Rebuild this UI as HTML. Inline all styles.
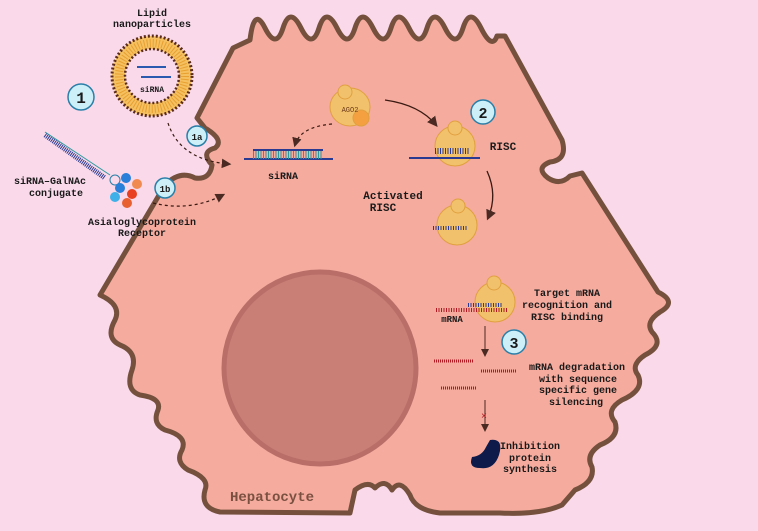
<!DOCTYPE html>
<html><head><meta charset="utf-8"><style>
html,body{margin:0;padding:0;background:#f9d9ea}
svg{display:block}
text{font-family:"Liberation Mono","DejaVu Sans Mono",monospace;font-weight:bold;font-size:10px;fill:#1a1a1a;text-anchor:middle}
</style></head><body>
<svg width="758" height="531" viewBox="0 0 758 531" xmlns="http://www.w3.org/2000/svg">
<defs>
<marker id="ah" markerWidth="8" markerHeight="8" refX="6" refY="4" orient="auto"><path d="M0,0 L8,4 L0,8 Z" fill="#4a2a22"/></marker>
</defs>
<rect width="758" height="531" fill="#f9d9ea"/>
<path d="M233,48 L250,40 Q254,6 265,28 T283,28 T301,28 T319,28 T337,28 T355,28 T373,28 T391,28 T409,28 T427,28 T445,28 T463,28 T481,28 T497,36 L505,36 L562,140 Q568,160 550,162 Q535,168 548,178 Q560,186 570,176 L582,173 L658,292 Q678,302 660,312 Q645,322 652,332 Q665,345 645,355 Q630,365 638,375 Q645,390 622,400 Q605,410 615,422 Q620,437 600,445 Q585,455 592,467 Q595,482 575,490 L562,505 Q540,515 500,513 L440,513 Q415,510 410,495 Q400,478 392,490 Q385,478 375,488 Q368,480 355,490 L350,513 L220,512 Q200,508 205,490 Q210,478 188,470 Q175,462 182,450 Q188,436 165,430 Q152,424 158,410 Q162,398 140,395 Q125,390 132,370 Q138,352 120,345 Q105,338 115,320 Q122,305 100,295 L165,185 Q180,170 195,178 Q210,180 212,165 Q200,152 215,148 Q225,140 205,128 L197,118 Z" fill="#f5ab9e" stroke="#74503d" stroke-width="5" stroke-linejoin="round"/>
<circle cx="320" cy="368" r="96" fill="#c97f76" stroke="#b96e68" stroke-width="5"/>
<text x="272" y="501" style="font-size:14px;fill:#7a5040">Hepatocyte</text>

<circle cx="152" cy="76" r="40" fill="#f5c060" stroke="#5a2a1a" stroke-width="3" stroke-dasharray="2 2"/>
<circle cx="152" cy="76" r="33" fill="none" stroke="#e8a030" stroke-width="8" stroke-dasharray="1 2"/>
<circle cx="152" cy="76" r="27" fill="#f9d9ea" stroke="#5a2a1a" stroke-width="2.5" stroke-dasharray="2 2"/>
<line x1="137" y1="67" x2="166" y2="67" stroke="#2a5ab0" stroke-width="2"/>
<line x1="141" y1="77" x2="171" y2="77" stroke="#2a5ab0" stroke-width="2"/>
<text x="152" y="92" style="font-size:8px">siRNA</text>
<text x="152" y="16">Lipid</text>
<text x="152" y="27">nanoparticles</text>

<g stroke="#2a7fa8" stroke-width="1.5" fill="#cdeff8">
<circle cx="81" cy="97" r="13"/><circle cx="483" cy="112" r="12"/><circle cx="514" cy="342" r="12"/>
<circle cx="197" cy="136" r="10"/><circle cx="165" cy="188" r="10"/>
</g>
<text x="81" y="103" style="font-size:16px">1</text>
<text x="483" y="118" style="font-size:15px">2</text>
<text x="514" y="348" style="font-size:15px">3</text>
<text x="197" y="140" style="font-size:9px">1a</text>
<text x="165" y="192" style="font-size:9px">1b</text>

<line x1="45" y1="135" x2="105" y2="178" stroke="#2a3a90" stroke-width="5" stroke-dasharray="1 1"/>
<line x1="45" y1="132" x2="110" y2="175" stroke="#2a9aa0" stroke-width="1"/>
<circle cx="115" cy="180" r="5" fill="none" stroke="#2a7fa8"/>
<circle cx="126" cy="178" r="5" fill="#2a7fd8"/><circle cx="120" cy="188" r="5" fill="#2a7fd8"/>
<circle cx="137" cy="184" r="5" fill="#f08a50"/><circle cx="132" cy="194" r="5" fill="#e84020"/>
<circle cx="115" cy="197" r="5" fill="#40b0e8"/><circle cx="127" cy="203" r="5" fill="#e86030"/>
<text x="50" y="184">siRNA–GalNAc</text>
<text x="56" y="196">conjugate</text>
<text x="142" y="225">Asialoglycoprotein</text>
<text x="142" y="236">Receptor</text>

<path d="M168,123 Q180,160 229,164" fill="none" stroke="#3a1a12" stroke-width="1.2" stroke-dasharray="3 3" marker-end="url(#ah)"/>
<path d="M153,203 Q190,212 223,195" fill="none" stroke="#3a1a12" stroke-width="1.2" stroke-dasharray="3 3" marker-end="url(#ah)"/>
<path d="M332,124 Q300,127 295,145" fill="none" stroke="#3a1a12" stroke-width="1.2" stroke-dasharray="3 3" marker-end="url(#ah)"/>

<line x1="244" y1="159" x2="333" y2="159" stroke="#2a3a90" stroke-width="2"/>
<line x1="253" y1="150" x2="323" y2="150" stroke="#2a3a90" stroke-width="2"/>
<line x1="253" y1="155" x2="323" y2="155" stroke="#2a9aa0" stroke-width="8" stroke-dasharray="1 1.5"/>
<text x="283" y="179">siRNA</text>

<g fill="#f2c16b" stroke="#e0a040" stroke-width="1">
<ellipse cx="350" cy="107" rx="20" ry="19"/><circle cx="345" cy="92" r="7"/><circle cx="361" cy="118" r="8" fill="#f5a040"/>
</g>
<text x="350" y="112" style="font-size:7px;font-weight:normal;fill:#6a3a1a">AGO2</text>
<path d="M385,100 Q420,105 436,125" fill="none" stroke="#3a1a12" stroke-width="1.3" marker-end="url(#ah)"/>

<g fill="#f2c16b" stroke="#e0a040"><ellipse cx="455" cy="146" rx="20" ry="20"/><circle cx="455" cy="128" r="7"/></g>
<line x1="409" y1="158" x2="480" y2="158" stroke="#2a3a90" stroke-width="2"/>
<line x1="435" y1="151" x2="470" y2="151" stroke="#2a3a90" stroke-width="6" stroke-dasharray="1 1.5"/>
<text x="503" y="150" style="font-size:11px">RISC</text>
<path d="M487,171 Q498,195 488,218" fill="none" stroke="#3a1a12" stroke-width="1.3" marker-end="url(#ah)"/>

<g fill="#f2c16b" stroke="#e0a040"><ellipse cx="457" cy="225" rx="20" ry="20"/><circle cx="458" cy="206" r="7"/></g>
<line x1="433" y1="228" x2="467" y2="228" stroke="#2a3a90" stroke-width="4" stroke-dasharray="1 1.5"/>
<text x="393" y="199" style="font-size:11px">Activated</text>
<text x="383" y="211" style="font-size:11px">RISC</text>

<g fill="#f2c16b" stroke="#e0a040"><ellipse cx="495" cy="302" rx="20" ry="20"/><circle cx="494" cy="283" r="7"/></g>
<line x1="436" y1="310" x2="508" y2="310" stroke="#b01a20" stroke-width="4" stroke-dasharray="1 1.5"/>
<line x1="468" y1="305" x2="503" y2="305" stroke="#2a3a90" stroke-width="4" stroke-dasharray="1 1.5"/>
<text x="452" y="322" style="font-size:9px">mRNA</text>
<text x="567" y="296">Target mRNA</text>
<text x="567" y="308">recognition and</text>
<text x="567" y="320">RISC binding</text>
<line x1="485" y1="326" x2="485" y2="355" stroke="#4a2a22" stroke-width="1" marker-end="url(#ah)"/>
<g stroke="#b01a20" stroke-width="3" stroke-dasharray="1 1"><line x1="434" y1="361" x2="474" y2="361"/><line x1="481" y1="371" x2="516" y2="371"/><line x1="441" y1="388" x2="476" y2="388"/></g>
<text x="577" y="370">mRNA degradation</text>
<text x="578" y="382">with sequence</text>
<text x="578" y="393">specific gene</text>
<text x="576" y="405">silencing</text>
<line x1="485" y1="400" x2="485" y2="430" stroke="#4a2a22" stroke-width="1" marker-end="url(#ah)"/>
<text x="484" y="419" style="font-size:10px;fill:#b01a20;font-weight:normal">×</text>
<path d="M490,440 Q504,438 499,455 Q494,470 480,468 Q468,468 472,457 Q482,456 486,447 Z" fill="#0d1a4a"/>
<text x="530" y="449">Inhibition</text>
<text x="530" y="461">protein</text>
<text x="530" y="472">synthesis</text>
</svg>
</body></html>
